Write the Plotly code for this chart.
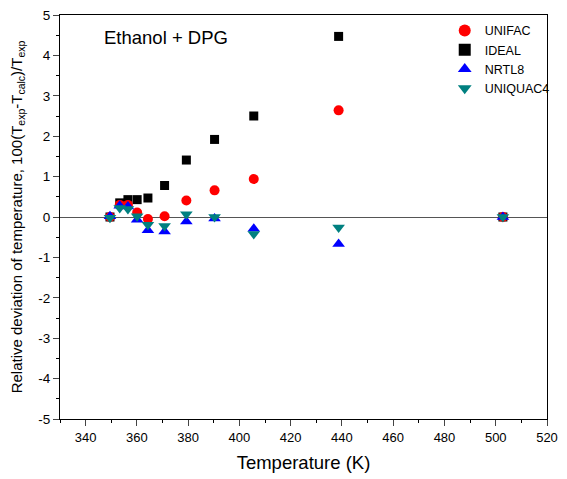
import plotly.graph_objects as go

# Data
temperature = [349.5, 353.3, 356.5, 360.1, 364.3, 370.8, 379.3, 390.3, 405.6, 438.7, 502.8]
ideal = [0.0, 0.35, 0.43, 0.43, 0.47, 0.78, 1.41, 1.92, 2.50, 4.47, 0.0]
unifac = [0.0, 0.30, 0.30, 0.11, -0.05, 0.02, 0.41, 0.66, 0.94, 2.64, 0.0]
nrtl8 = [0.02, 0.28, 0.26, -0.07, -0.33, -0.36, -0.11, -0.04, -0.29, -0.67, 0.0]
uniquac4 = [-0.02, 0.22, 0.20, 0.02, -0.19, -0.22, 0.07, 0.0, -0.42, -0.26, 0.0]

x_ticks = list(range(340, 521, 20))
y_ticks = list(range(-5, 6))
y_ticktext = [str(v) for v in y_ticks]

FONT = "Liberation Sans, Arial, sans-serif"

fig = go.Figure()
fig.add_trace(go.Scatter(x=temperature, y=ideal, mode="markers", name="IDEAL", legendrank=2,
                         marker=dict(symbol="square", size=9, color="black")))
fig.add_trace(go.Scatter(x=temperature, y=unifac, mode="markers", name="UNIFAC", legendrank=1,
                         marker=dict(symbol="circle", size=10, color="#ff0000")))
fig.add_trace(go.Scatter(x=temperature, y=nrtl8, mode="markers", name="NRTL8", legendrank=3,
                         marker=dict(symbol="triangle-up", size=11, color="#0000ff")))
fig.add_trace(go.Scatter(x=temperature, y=uniquac4, mode="markers", name="UNIQUAC4", legendrank=4,
                         marker=dict(symbol="triangle-down", size=11, color="#008080")))

fig.update_layout(
    width=567, height=479,
    margin=dict(l=60, r=12, t=15, b=60),
    paper_bgcolor="white", plot_bgcolor="white",
    font=dict(family=FONT, size=12, color="black"),
    showlegend=True,
    legend=dict(x=0.79, y=0.998, xanchor="left", yanchor="top",
                bgcolor="rgba(0,0,0,0)", font=dict(size=12.5, family=FONT),
                tracegroupgap=0, itemsizing="constant"),
    annotations=[dict(text="Ethanol + DPG", x=0.087, y=0.945, xref="paper", yref="paper",
                      xanchor="left", yanchor="middle", showarrow=False,
                      font=dict(size=18.5, family=FONT))],
)

fig.update_xaxes(
    range=[330, 520], tickvals=x_ticks, ticks="outside", ticklen=6, tickwidth=1,
    showline=True, linecolor="black", linewidth=1, mirror=True, showgrid=False, zeroline=False,
    minor=dict(dtick=10, ticks="outside", ticklen=3, tickcolor="black", showgrid=False),
    tickfont=dict(size=13), automargin=False,
    title=dict(text="Temperature (K)", font=dict(size=18.5), standoff=12),
)
fig.update_yaxes(
    range=[-5, 5], tickvals=y_ticks, ticktext=y_ticktext, ticks="outside", ticklen=6, tickwidth=1,
    showline=True, linecolor="black", linewidth=1, mirror=True, showgrid=False,
    zeroline=True, zerolinecolor="#555555", zerolinewidth=1,
    minor=dict(dtick=0.5, ticks="outside", ticklen=3, tickcolor="black", showgrid=False),
    tickfont=dict(size=13.5), automargin=False,
    title=dict(text="Relative deviation of temperature, 100(T<sub>exp</sub>-T<sub>calc</sub>)/T<sub>exp</sub>",
               font=dict(size=15), standoff=12),
)

fig.write_html("out.html", post_script="document.body.style.margin='0';",
               config={"displayModeBar": False})
